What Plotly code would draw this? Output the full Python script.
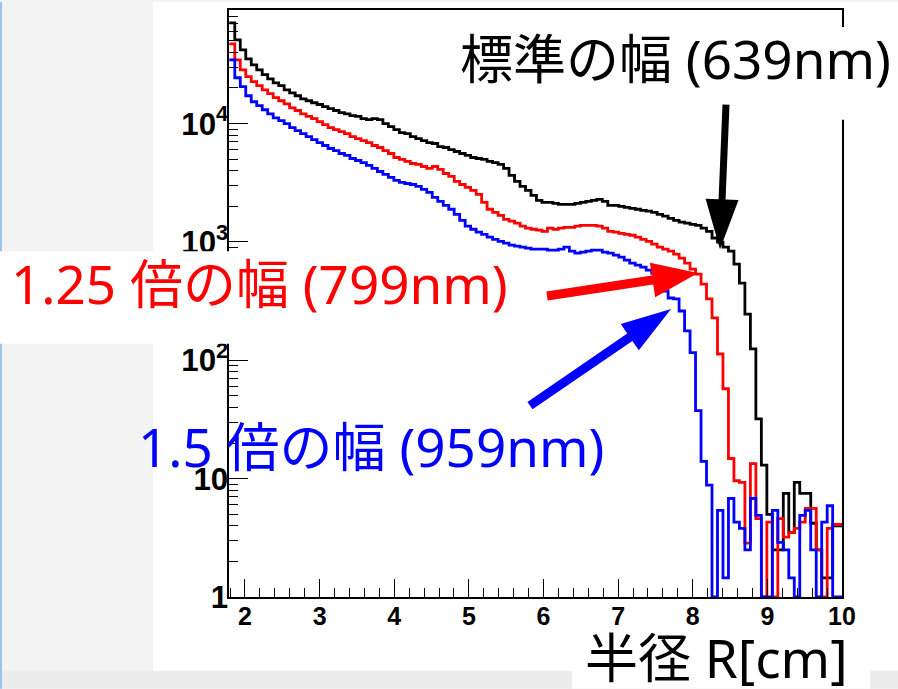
import numpy as np
import plotly.graph_objects as go

# ---- histogram binning (radius in cm) ----
BIN_START = 1.79
BIN_WIDTH = 0.0735
N_BINS = 112
edges = BIN_START + BIN_WIDTH * np.arange(N_BINS + 1)

# ---- counts per bin ----
counts_639nm = [
    70900, 51000, 42000, 35300, 31400, 28500, 25900, 23900, 22100, 20900,
    19300, 18200, 17200, 16200, 15600, 15000, 14500, 13900, 13400, 12900,
    12400, 12100, 11700, 11500, 11000, 10800, 11000, 10800, 10000, 9430,
    8900, 8400, 8240, 7770, 7480, 7190, 6920, 6790, 6400, 6280,
    6040, 5810, 5590, 5380, 5170, 5070, 4980, 4790, 4690, 4520,
    4180, 3650, 3250, 2950, 2730, 2480, 2250, 2160, 2160, 2120,
    2080, 2080, 2080, 2120, 2160, 2200, 2250, 2290, 2200, 2040,
    2040, 2000, 1960, 1920, 1890, 1850, 1820, 1780, 1710, 1650,
    1580, 1520, 1470, 1440, 1410, 1380, 1310, 1230, 1080, 995,
    903, 836, 649, 449, 246, 125, 32, 13, 5, 2.5,
    2.5, 7.5, 3.5, 9.3, 7.5, 7.5, 4.2, 2.5, 1.45, 1.45,
    4, 4,
]
counts_799nm = [
    47200, 34600, 28500, 24900, 22600, 20900, 19300, 17900, 16600, 15600,
    14700, 13600, 12900, 12100, 11500, 11000, 10400, 9810, 9250, 8900,
    8560, 8240, 7770, 7480, 7190, 6920, 6530, 6280, 5920, 5590,
    5170, 4980, 4790, 4600, 4520, 4340, 4180, 4340, 4100, 3790,
    3580, 3250, 3060, 2890, 2730, 2520, 2160, 1890, 1780, 1680,
    1550, 1500, 1440, 1360, 1310, 1280, 1260, 1230, 1310, 1280,
    1310, 1330, 1330, 1360, 1380, 1380, 1380, 1360, 1310, 1230,
    1210, 1180, 1160, 1140, 1100, 1050, 1010, 957, 903, 869,
    836, 789, 730, 662, 590, 535, 441, 330, 228, 113,
    57.5, 14.8, 9.6, 9.3, 2.85, 13.4, 4.6, 0, 4.3, 0,
    4.6, 3.2, 3.5, 3.8, 4.3, 5.6, 5.6, 2.5, 0, 3.8,
    4.1, 4.1,
]
counts_959nm = [
    34600, 24400, 20500, 17200, 15300, 14200, 13100, 12100, 11200, 10600,
    10000, 9250, 8730, 8240, 7770, 7330, 6920, 6530, 6160, 5920,
    5590, 5380, 5070, 4880, 4690, 4430, 4180, 3940, 3720, 3510,
    3310, 3190, 3120, 3060, 2950, 2780, 2620, 2380, 2200, 2040,
    1890, 1710, 1520, 1360, 1280, 1210, 1160, 1100, 1050, 1010,
    976, 939, 921, 903, 886, 869, 869, 869, 852, 852,
    869, 903, 836, 804, 820, 836, 852, 852, 820, 804,
    773, 744, 702, 662, 637, 613, 578, 546, 476, 385,
    336, 330, 261, 177, 116, 37.6, 14, 8.8, 0, 5.4,
    1.45, 6.8, 4.3, 3.8, 2.5, 6.8, 4.9, 0, 0, 5.4,
    2.9, 2.5, 1.45, 0, 4.9, 5.4, 2.5, 0, 4.3, 5.9,
    0, 0,
]

series = [
    ("標準の幅 (639nm)", counts_639nm, "#000000"),
    ("1.25 倍の幅 (799nm)", counts_799nm, "#ff0000"),
    ("1.5 倍の幅 (959nm)", counts_959nm, "#0000ff"),
]

# ---- canvas geometry (pixels) ----
W, H = 898, 689
PL, PT, PW, PH = 229, 8, 613, 589   # plot area: left, top, width, height


def to_paper(px, py):
    return (px - PL) / PW, (PT + PH - py) / PH


def rect(x0, y0, x1, y1, color, layer="above"):
    a, b = to_paper(x0, y0)
    c, d = to_paper(x1, y1)
    return dict(type="rect", xref="paper", yref="paper", x0=a, y0=b, x1=c, y1=d,
                fillcolor=color, line=dict(width=0), layer=layer)


def arrow(p0, p1, shaft, head_len, head_w, color):
    x0, y0 = p0
    x1, y1 = p1
    L = np.hypot(x1 - x0, y1 - y0)
    ux, uy = (x1 - x0) / L, (y1 - y0) / L
    nx, ny = -uy, ux
    bx, by = x1 - ux * head_len, y1 - uy * head_len
    pts = [
        (x0 + nx * shaft / 2, y0 + ny * shaft / 2),
        (bx + nx * shaft / 2, by + ny * shaft / 2),
        (bx + nx * head_w / 2, by + ny * head_w / 2),
        (x1, y1),
        (bx - nx * head_w / 2, by - ny * head_w / 2),
        (bx - nx * shaft / 2, by - ny * shaft / 2),
        (x0 - nx * shaft / 2, y0 - ny * shaft / 2),
    ]
    path = "M " + " L ".join("%.5f,%.5f" % to_paper(x, y) for x, y in pts) + " Z"
    return dict(type="path", xref="paper", yref="paper", path=path,
                fillcolor=color, line=dict(color=color, width=0), layer="above")


fig = go.Figure()

# step outlines, ROOT style; empty bins sit on the axis floor
step_x = np.append(edges[:-1], edges[-1])
for name, vals, col in series:
    v = np.asarray(vals, dtype=float)
    v = np.where(v > 0, v, 1.0)
    fig.add_trace(go.Scatter(
        x=step_x, y=np.append(v, v[-1]), mode="lines", name=name,
        line=dict(color=col, width=2.8, shape="hv"), showlegend=False,
        hoverinfo="skip",
    ))

shapes = [
    # slide background
    rect(0, 671, W, H, "#ececec", layer="below"),
    rect(153, 0, W, 671, "#ffffff", layer="below"),
    rect(0, 0, 2, H, "#9dc3ec", layer="below"),
    # label backgrounds
    rect(445, 25, W, 118, "#ffffff"),
    rect(0, 250, 530, 343, "#ffffff"),
    rect(572, 630, 870, H, "#ffffff"),
    # arrows
    arrow((726, 103), (720, 248), 7, 50, 33, "#000000"),
    arrow((547, 295), (698, 272), 9, 46, 35, "#ff0000"),
    arrow((530, 405), (671, 308), 9, 50, 32, "#0000ff"),
]

JP = "Noto Sans, Noto Sans CJK JP"
FS = 53


def label(text, px, py, color, xanchor):
    x, y = to_paper(px, py)
    return dict(text=text, x=x, y=y, xref="paper", yref="paper", showarrow=False,
                xanchor=xanchor, yanchor="middle",
                font=dict(family=JP, size=FS, color=color))


annotations = [
    label("標準の幅 (639nm)", 893, 57, "#000000", "right"),
    label("1.25 倍の幅 (799nm)", 9, 282, "#ff0000", "left"),
    label("1.5 倍の幅 (959nm)", 136, 446, "#0000ff", "left"),
    label("半径 R[cm]", 850, 658, "#000000", "right"),
]

tickfont = dict(family="Liberation Sans", size=25, color="#000000", weight="bold")

fig.update_layout(
    width=W, height=H, autosize=False,
    margin=dict(l=PL, r=W - PL - PW, t=PT, b=H - PT - PH, pad=0),
    paper_bgcolor="#f3f3f3", plot_bgcolor="#ffffff",
    shapes=shapes, annotations=annotations,
    xaxis=dict(
        range=[1.786, 10], dtick=1, tick0=0, showgrid=False, zeroline=False,
        ticks="inside", ticklen=18, tickwidth=1, tickcolor="#000000",
        minor=dict(ticks="inside", ticklen=9, dtick=0.2, tick0=0,
                   tickwidth=1, tickcolor="#000000", showgrid=False),
        showline=True, linecolor="#000000", linewidth=1.5, mirror=True,
        tickfont=tickfont, ticklabelstandoff=-4,
    ),
    yaxis=dict(
        type="log", range=[0, 4.96], dtick=1, exponentformat="power",
        showgrid=False, zeroline=False,
        ticks="inside", ticklen=19, tickwidth=1, tickcolor="#000000",
        minor=dict(ticks="inside", ticklen=9, dtick="D1",
                   tickwidth=1, tickcolor="#000000", showgrid=False),
        showline=True, linecolor="#000000", linewidth=1.5, mirror=True,
        tickfont=tickfont, ticklabelstandoff=-6,
    ),
)

fig.write_html("out.html")
